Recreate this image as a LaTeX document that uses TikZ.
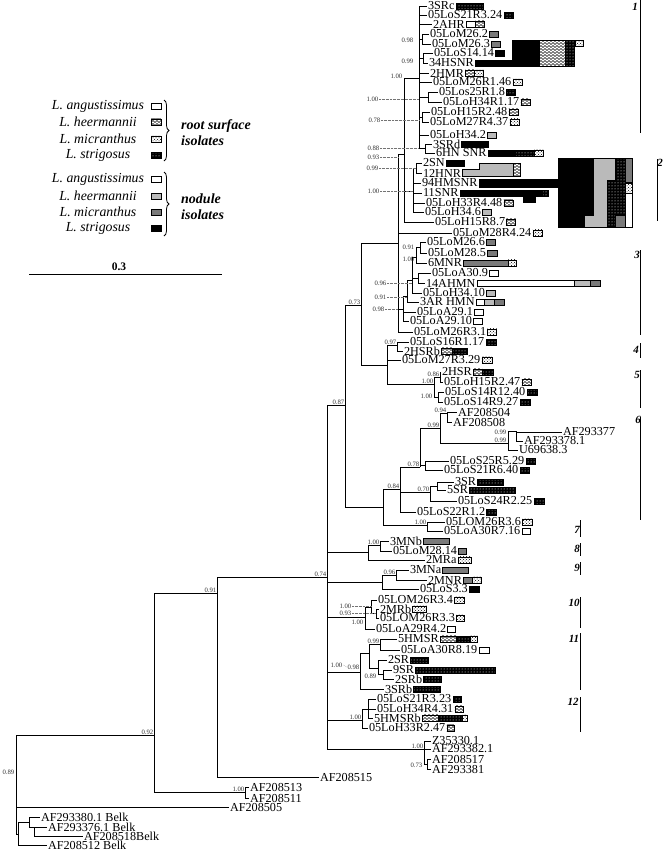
\documentclass[tikz,border=0pt]{standalone}
\usepackage{fontspec}
\setmainfont{Liberation Serif}
\usetikzlibrary{patterns,decorations.pathreplacing}

% wavy fill for L. heermannii root isolates
\pgfdeclarepatternformonly{hwave}{\pgfqpoint{-0.5pt}{-0.5pt}}{\pgfqpoint{4.5pt}{3.5pt}}{\pgfqpoint{4pt}{3pt}}{%
  \pgfsetlinewidth{0.45pt}%
  \pgfpathmoveto{\pgfqpoint{0pt}{1.5pt}}%
  \pgfpathcurveto{\pgfqpoint{1pt}{2.9pt}}{\pgfqpoint{1pt}{2.9pt}}{\pgfqpoint{2pt}{1.5pt}}%
  \pgfpathcurveto{\pgfqpoint{3pt}{0.1pt}}{\pgfqpoint{3pt}{0.1pt}}{\pgfqpoint{4pt}{1.5pt}}%
  \pgfusepath{stroke}%
}

\newcommand{\leaffont}{\fontsize{12.2}{12}\selectfont}
\newcommand{\bsfont}{\fontsize{6.7}{7}\selectfont}
\newcommand{\cladefont}{\fontsize{11}{11}\selectfont\bfseries\itshape}
\newcommand{\legfont}{\fontsize{13.8}{14}\selectfont\itshape}
% isolate boxes behind a leaf label: #1 leaf, #2 list style/width
\newcommand{\isobars}[2]{%
  \coordinate (bx) at ([xshift=0.5pt]#1.east);
  \foreach \bsty/\bwid in {#2}{%
    \draw[\bsty] ([yshift=3.25pt]bx) rectangle ++(\bwid,6.5);
    \coordinate (bx) at ([xshift=\bwid pt]bx);
  }%
}

\begin{document}
\begin{tikzpicture}[x=1pt, y=-1pt,
    leaf/.style={anchor=west, inner sep=0.8pt, font=\leaffont},
    bs/.style={inner sep=0.5pt, font=\bsfont, text=black!80},
    br/.style={line width=0.9pt},
    lead/.style={densely dotted, line width=0.35pt, black!55},
    clab/.style={inner sep=0pt, font=\cladefont},
    cbar/.style={line width=0.9pt},
    brc/.style={line width=0.8pt, decorate, decoration={brace, amplitude=5pt}},
    nodA/.style={draw, line width=0.4pt, fill=white},
    nodH/.style={draw, line width=0.4pt, fill=black!27},
    nodM/.style={draw, line width=0.4pt, fill=black!52},
    nodS/.style={draw, line width=0.4pt, fill=black},
    rootA/.style={draw, line width=0.4pt, fill=white, path picture={\fill (path picture bounding box.center) circle (0.9pt);}},
    rootH/.style={draw, line width=0.4pt, preaction={fill=white}, pattern=hwave},
    rootM/.style={draw, line width=0.4pt, preaction={fill=white}, pattern=crosshatch dots},
    rootS/.style={draw, line width=0.4pt, preaction={fill=black}, pattern=dots, pattern color=white},
    legtxt/.style={inner sep=0pt, font=\legfont},
    grptxt/.style={anchor=west, align=left, inner sep=0pt, font=\fontsize{14}{16}\selectfont\bfseries\itshape}
  ]
  \fill[white] (0,0) rectangle (664,852);
  \useasboundingbox (0,0) rectangle (664,852);

  % legend
  \node[legtxt] (legRA) at (98,106) {L. angustissimus};
  \node[legtxt] (legRH) at (98,122) {L. heermannii};
  \node[legtxt] (legRM) at (98,139) {L. micranthus};
  \node[legtxt] (legRS) at (98,155) {L. strigosus};
  \node[legtxt] (legNA) at (98,179) {L. angustissimus};
  \node[legtxt] (legNH) at (98,196) {L. heermannii};
  \node[legtxt] (legNM) at (98,212) {L. micranthus};
  \node[legtxt] (legNS) at (98,228) {L. strigosus};
  \foreach \s/\yy in {rootA/106, rootH/122, rootM/139, rootS/155, nodA/179, nodH/196, nodM/212, nodS/228}
    \draw[\s] (151,\yy-3.25) rectangle (161,\yy+3.25);
  \draw[brc] (164,100) -- (164,161);
  \draw[brc] (164,172) -- (164,236);
  \node[grptxt] (grpR) at (181,133) {root surface\\isolates};
  \node[grptxt] (grpN) at (181,207) {nodule\\isolates};
  \node[inner sep=0pt, font=\fontsize{11.5}{12}\selectfont\bfseries] (scl) at (119,267) {0.3};
  \coordinate (sb1) at (29,274);
  \coordinate (sb2) at (222,274);
  \draw[line width=0.9pt] (sb1) -- (sb2);

  % internal nodes
  \coordinate (root) at (16,784);
  \coordinate (belk) at (18,834);
  \coordinate (belk2) at (29,822);
  \coordinate (belk3) at (34,827);
  \coordinate (n092) at (154,735);
  \coordinate (pairAF) at (245,792);
  \coordinate (n091) at (217,593);
  \coordinate (n074) at (327,577);
  \coordinate (n087) at (345,405);
  \coordinate (n084p) at (383,507);
  \coordinate (n084) at (400,489);
  \coordinate (n078) at (420,467);
  \coordinate (pS25) at (425,465);
  \coordinate (n099a) at (440,428);
  \coordinate (n094) at (447,413);
  \coordinate (n099b) at (508,443);
  \coordinate (n099c) at (516,431);
  \coordinate (n070) at (430,492);
  \coordinate (p3SR) at (437,486);
  \coordinate (c7) at (427,525);
  \coordinate (n073) at (361,305);
  \coordinate (n097p) at (387,365);
  \coordinate (n097) at (397,345);
  \coordinate (c5) at (434,384);
  \coordinate (p2HSR) at (440,377);
  \coordinate (p05LoS14) at (438,397);
  \coordinate (n093) at (398,243);
  \coordinate (nX) at (403,309);
  \coordinate (nY) at (407,296);
  \coordinate (nZ) at (412,280);
  \coordinate (nAA) at (416,257);
  \coordinate (nAB) at (420,247);
  \coordinate (nAC) at (418,278);
  \coordinate (nV) at (404,154);
  \coordinate (nVA) at (419,78);
  \coordinate (nVD) at (422,39);
  \coordinate (nVE) at (423,58);
  \coordinate (nVF) at (428,97);
  \coordinate (nVH) at (422,117);
  \coordinate (nVI) at (425,148);
  \coordinate (nVB) at (413,191);
  \coordinate (nVC) at (416,168);
  \coordinate (c8p) at (368,552);
  \coordinate (c8) at (380,545);
  \coordinate (c9) at (382,582);
  \coordinate (c9a) at (396,575);
  \coordinate (c10) at (365,617);
  \coordinate (c10a) at (371,607);
  \coordinate (c10b) at (376,613);
  \coordinate (c11) at (360,672);
  \coordinate (c11a) at (369,653);
  \coordinate (c11b) at (380,644);
  \coordinate (c11c) at (378,668);
  \coordinate (c11d) at (383,674);
  \coordinate (c12) at (362,720);
  \coordinate (c12a) at (368,709);
  \coordinate (cAF) at (424,749);
  \coordinate (cAF2) at (427,764);

  % leaves
  \node[leaf] (l3SRc)          at (427,6)   {3SRc};
  \node[leaf] (l05LoS21R3p24)  at (427,15)  {05LoS21R3.24};
  \node[leaf] (l2AHR)          at (432,24)  {2AHR};
  \node[leaf] (l05LoM26p2)     at (429,34)  {05LoM26.2};
  \node[leaf] (l05LoM26p3)     at (431,44)  {05LoM26.3};
  \node[leaf] (l05LoS14p14)    at (433,53)  {05LoS14.14};
  \node[leaf] (l34HSNR)        at (428,63)  {34HSNR};
  \node[leaf] (l2HMR)          at (429,73)  {2HMR};
  \node[leaf] (l05LoM26R1p46)  at (432,82)  {05LoM26R1.46};
  \node[leaf] (l05Los25R1p8)   at (438,92)  {05Los25R1.8};
  \node[leaf] (l05LoH34R1p17)  at (442,102) {05LoH34R1.17};
  \node[leaf] (l05LoH15R2p48)  at (430,112) {05LoH15R2.48};
  \node[leaf] (l05LoM27R4p37)  at (429,122) {05LoM27R4.37};
  \node[leaf] (l05LoH34p2)     at (429,135) {05LoH34.2};
  \node[leaf] (l3SRd)          at (432,144) {3SRd};
  \node[leaf] (l6HNSNR)        at (435,153) {6HN SNR};
  \node[leaf] (l2SN)           at (422,163) {2SN};
  \node[leaf] (l12HNR)         at (422,173) {12HNR};
  \node[leaf] (l94HMSNR)       at (421,183) {94HMSNR};
  \node[leaf] (l11SNR)         at (422,193) {11SNR};
  \node[leaf] (l05LoH33R4p48)  at (425,203) {05LoH33R4.48};
  \node[leaf] (l05LoH34p6)     at (424,212) {05LoH34.6};
  \node[leaf] (l05LoH15R8p7)   at (434,222) {05LoH15R8.7};
  \node[leaf] (l05LoM28R4p24)  at (452,233) {05LoM28R4.24};
  \node[leaf] (l05LoM26p6)     at (426,242) {05LoM26.6};
  \node[leaf] (l05LoM28p5)     at (427,253) {05LoM28.5};
  \node[leaf] (l6MNR)          at (427,263) {6MNR};
  \node[leaf] (l05LoA30p9)     at (431,273) {05LoA30.9};
  \node[leaf] (l14AHMN)        at (425,283) {14AHMN};
  \node[leaf] (l05LoH34p10)    at (422,293) {05LoH34.10};
  \node[leaf] (l3ARHMN)        at (419,302) {3AR HMN};
  \node[leaf] (l05LoA29p1)     at (416,312) {05LoA29.1};
  \node[leaf] (l05LoA29p10)    at (409,321) {05LoA29.10};
  \node[leaf] (l05LoM26R3p1)   at (413,332) {05LoM26R3.1};
  \node[leaf] (l05LoS16R1p17)  at (409,342) {05LoS16R1.17};
  \node[leaf] (l2HSRb)         at (403,351) {2HSRb};
  \node[leaf] (l05LoM27R3p29)  at (401,360) {05LoM27R3.29};
  \node[leaf] (l2HSR)          at (441,372) {2HSR};
  \node[leaf] (l05LoH15R2p47)  at (443,382) {05LoH15R2.47};
  \node[leaf] (l05LoS14R12p40) at (444,392) {05LoS14R12.40};
  \node[leaf] (l05LoS14R9p27)  at (443,402) {05LoS14R9.27};
  \node[leaf] (lAF208504)      at (457,412) {AF208504};
  \node[leaf] (lAF208508)      at (452,422) {AF208508};
  \node[leaf] (lAF293377)      at (562,432) {AF293377};
  \node[leaf] (lAF293378p1)    at (523,441) {AF293378.1};
  \node[leaf] (lU69638p3)      at (518,450) {U69638.3};
  \node[leaf] (l05LoS25R5p29)  at (449,461) {05LoS25R5.29};
  \node[leaf] (l05LoS21R6p40)  at (443,470) {05LoS21R6.40};
  \node[leaf] (l3SR)           at (454,482) {3SR};
  \node[leaf] (l5SR)           at (446,490) {5SR};
  \node[leaf] (l05LoS24R2p25)  at (457,501) {05LoS24R2.25};
  \node[leaf] (l05LoS22R1p2)   at (416,512) {05LoS22R1.2};
  \node[leaf] (l05LOM26R3p6)   at (445,522) {05LOM26R3.6};
  \node[leaf] (l05LoA30R7p16)  at (443,531) {05LoA30R7.16};
  \node[leaf] (l3MNb)          at (389,541) {3MNb};
  \node[leaf] (l05LoM28p14)    at (392,551) {05LoM28.14};
  \node[leaf] (l2MRa)          at (425,560) {2MRa};
  \node[leaf] (l3MNa)          at (409,570) {3MNa};
  \node[leaf] (l2MNR)          at (427,580) {2MNR};
  \node[leaf] (l05LoS3p3)      at (419,589) {05LoS3.3};
  \node[leaf] (l05LOM26R3p4)   at (377,600) {05LOM26R3.4};
  \node[leaf] (l2MRb)          at (379,609) {2MRb};
  \node[leaf] (l05LOM26R3p3)   at (379,618) {05LOM26R3.3};
  \node[leaf] (l05LoA29R4p2)   at (375,629) {05LoA29R4.2};
  \node[leaf] (l5HMSR)         at (397,639) {5HMSR};
  \node[leaf] (l05LoA30R8p19)  at (400,650) {05LoA30R8.19};
  \node[leaf] (l2SR)           at (387,660) {2SR};
  \node[leaf] (l9SR)           at (392,670) {9SR};
  \node[leaf] (l2SRb)          at (394,679) {2SRb};
  \node[leaf] (l3SRb)          at (384,689) {3SRb};
  \node[leaf] (l05LoS21R3p23)  at (376,699) {05LoS21R3.23};
  \node[leaf] (l05LoH34R4p31)  at (376,709) {05LoH34R4.31};
  \node[leaf] (l5HMSRb)        at (373,718) {5HMSRb};
  \node[leaf] (l05LoH33R2p47)  at (368,728) {05LoH33R2.47};
  \node[leaf] (lZ35330p1)      at (431,741) {Z35330.1};
  \node[leaf] (lAF293382p1)    at (431,749) {AF293382.1};
  \node[leaf] (lAF208517)      at (431,759) {AF208517};
  \node[leaf] (lAF293381)      at (431,769) {AF293381};
  \node[leaf] (lAF208515)      at (319,777) {AF208515};
  \node[leaf] (lAF208513)      at (249,787) {AF208513};
  \node[leaf] (lAF208511)      at (249,798) {AF208511};
  \node[leaf] (lAF208505)      at (229,807) {AF208505};
  \node[leaf] (lAF293380p1)    at (40,817)  {AF293380.1 Belk};
  \node[leaf] (lAF293376p1)    at (47,827)  {AF293376.1 Belk};
  \node[leaf] (lAF208518)      at (83,836)  {AF208518Belk};
  \node[leaf] (lAF208512)      at (47,845)  {AF208512 Belk};

  % branches
  \foreach \c in {n092, lAF208505.west, belk} \draw[br] (root) |- (\c);
  \foreach \c in {belk2, lAF208512.west} \draw[br] (belk) |- (\c);
  \foreach \c in {lAF293380p1.west, belk3} \draw[br] (belk2) |- (\c);
  \foreach \c in {lAF293376p1.west, lAF208518.west} \draw[br] (belk3) |- (\c);
  \foreach \c in {n091, pairAF} \draw[br] (n092) |- (\c);
  \foreach \c in {lAF208513.west, lAF208511.west} \draw[br] (pairAF) |- (\c);
  \foreach \c in {n074, lAF208515.west} \draw[br] (n091) |- (\c);
  \foreach \c in {n087, c8p, c9, c10, c11, c12, cAF} \draw[br] (n074) |- (\c);
  \foreach \c in {n073, n084p} \draw[br] (n087) |- (\c);
  \foreach \c in {n084, c7} \draw[br] (n084p) |- (\c);
  \foreach \c in {n078, n070, l05LoS22R1p2.west} \draw[br] (n084) |- (\c);
  \foreach \c in {n099a, pS25} \draw[br] (n078) |- (\c);
  \foreach \c in {l05LoS25R5p29.west, l05LoS21R6p40.west} \draw[br] (pS25) |- (\c);
  \foreach \c in {n094, n099b} \draw[br] (n099a) |- (\c);
  \foreach \c in {lAF208504.west, lAF208508.west} \draw[br] (n094) |- (\c);
  \foreach \c in {n099c, lU69638p3.west} \draw[br] (n099b) |- (\c);
  \foreach \c in {lAF293377.west, lAF293378p1.west} \draw[br] (n099c) |- (\c);
  \foreach \c in {p3SR, l05LoS24R2p25.west} \draw[br] (n070) |- (\c);
  \foreach \c in {l3SR.west, l5SR.west} \draw[br] (p3SR) |- (\c);
  \foreach \c in {l05LOM26R3p6.west, l05LoA30R7p16.west} \draw[br] (c7) |- (\c);
  \foreach \c in {n093, n097p} \draw[br] (n073) |- (\c);
  \foreach \c in {n097, l05LoM27R3p29.west, c5} \draw[br] (n097p) |- (\c);
  \foreach \c in {l05LoS16R1p17.west, l2HSRb.west} \draw[br] (n097) |- (\c);
  \foreach \c in {p2HSR, p05LoS14} \draw[br] (c5) |- (\c);
  \foreach \c in {l2HSR.west, l05LoH15R2p47.west} \draw[br] (p2HSR) |- (\c);
  \foreach \c in {l05LoS14R12p40.west, l05LoS14R9p27.west} \draw[br] (p05LoS14) |- (\c);
  \foreach \c in {nV, l05LoM28R4p24.west, nX, l05LoM26R3p1.west} \draw[br] (n093) |- (\c);
  \foreach \c in {nY, l05LoA29p1.west, l05LoA29p10.west} \draw[br] (nX) |- (\c);
  \foreach \c in {nZ, l3ARHMN.west} \draw[br] (nY) |- (\c);
  \foreach \c in {nAA, nAC, l05LoH34p10.west} \draw[br] (nZ) |- (\c);
  \foreach \c in {nAB, l6MNR.west} \draw[br] (nAA) |- (\c);
  \foreach \c in {l05LoM26p6.west, l05LoM28p5.west} \draw[br] (nAB) |- (\c);
  \foreach \c in {l05LoA30p9.west, l14AHMN.west} \draw[br] (nAC) |- (\c);
  \foreach \c in {nVA, nVB, l05LoH15R8p7.west} \draw[br] (nV) |- (\c);
  \foreach \c in {l3SRc.west, l05LoS21R3p24.west, l2AHR.west, nVD, nVE, l2HMR.west, l05LoM26R1p46.west, nVF, nVH, l05LoH34p2.west, nVI} \draw[br] (nVA) |- (\c);
  \foreach \c in {l05LoM26p2.west, l05LoM26p3.west} \draw[br] (nVD) |- (\c);
  \foreach \c in {l05LoS14p14.west, l34HSNR.west} \draw[br] (nVE) |- (\c);
  \foreach \c in {l05Los25R1p8.west, l05LoH34R1p17.west} \draw[br] (nVF) |- (\c);
  \foreach \c in {l05LoH15R2p48.west, l05LoM27R4p37.west} \draw[br] (nVH) |- (\c);
  \foreach \c in {l3SRd.west, l6HNSNR.west} \draw[br] (nVI) |- (\c);
  \foreach \c in {nVC, l94HMSNR.west, l11SNR.west, l05LoH33R4p48.west, l05LoH34p6.west} \draw[br] (nVB) |- (\c);
  \foreach \c in {l2SN.west, l12HNR.west} \draw[br] (nVC) |- (\c);
  \foreach \c in {c8, l2MRa.west} \draw[br] (c8p) |- (\c);
  \foreach \c in {l3MNb.west, l05LoM28p14.west} \draw[br] (c8) |- (\c);
  \foreach \c in {c9a, l05LoS3p3.west} \draw[br] (c9) |- (\c);
  \foreach \c in {l3MNa.west, l2MNR.west} \draw[br] (c9a) |- (\c);
  \foreach \c in {c10a, l05LoA29R4p2.west} \draw[br] (c10) |- (\c);
  \foreach \c in {l05LOM26R3p4.west, c10b} \draw[br] (c10a) |- (\c);
  \foreach \c in {l2MRb.west, l05LOM26R3p3.west} \draw[br] (c10b) |- (\c);
  \foreach \c in {c11a, l3SRb.west} \draw[br] (c11) |- (\c);
  \foreach \c in {c11b, c11c} \draw[br] (c11a) |- (\c);
  \foreach \c in {l5HMSR.west, l05LoA30R8p19.west} \draw[br] (c11b) |- (\c);
  \foreach \c in {l2SR.west, c11d} \draw[br] (c11c) |- (\c);
  \foreach \c in {l9SR.west, l2SRb.west} \draw[br] (c11d) |- (\c);
  \foreach \c in {c12a, l05LoH33R2p47.west} \draw[br] (c12) |- (\c);
  \foreach \c in {l05LoS21R3p23.west, l05LoH34R4p31.west, l5HMSRb.west} \draw[br] (c12a) |- (\c);
  \foreach \c in {lZ35330p1.west, lAF293382p1.west, cAF2} \draw[br] (cAF) |- (\c);
  \foreach \c in {lAF208517.west, lAF293381.west} \draw[br] (cAF2) |- (\c);

  % support values
  \node[bs, anchor=east] (b089) at (15,772) {0.89};
  \node[bs, anchor=south east] (b092) at (n092) {0.92};
  \node[bs, anchor=south east] (b100p) at (pairAF) {1.00};
  \node[bs, anchor=south east] (b091) at (n091) {0.91};
  \node[bs, anchor=south east] (b074) at (n074) {0.74};
  \node[bs, anchor=south east] (b087) at (n087) {0.87};
  \node[bs, anchor=south east] (b073) at (n073) {0.73};
  \node[bs, anchor=south east] (b084) at (n084) {0.84};
  \node[bs, anchor=south east] (b078) at (n078) {0.78};
  \node[bs, anchor=south east] (b099a) at (n099a) {0.99};
  \node[bs, anchor=south east] (b094) at (n094) {0.94};
  \node[bs, anchor=east] (b099c) at (507,432) {0.99};
  \node[bs, anchor=east] (b099b) at (507,440) {0.99};
  \node[bs, anchor=south east] (b070) at (n070) {0.70};
  \node[bs, anchor=south east] (b100c7) at (c7) {1.00};
  \node[bs, anchor=south east] (b097) at (n097) {0.97};
  \node[bs, anchor=south east] (b086) at (p2HSR) {0.86};
  \node[bs, anchor=south east] (b100c5) at (c5) {1.00};
  \node[bs, anchor=east] (b100s14) at (433,396) {1.00};
  \node[bs, anchor=east] (b091AB) at (415,247) {0.91};
  \node[bs, anchor=east] (b100AA) at (415,259) {1.00};
  \node[bs, anchor=east] (b096) at (387,283) {0.96};
  \node[bs, anchor=east] (b091Y) at (387,297) {0.91};
  \node[bs, anchor=east] (b098X) at (385,309) {0.98};
  \node[bs, anchor=east] (b093) at (380,157) {0.93};
  \node[bs, anchor=east] (b100VA) at (403,76) {1.00};
  \node[bs, anchor=east] (b098D) at (414,40) {0.98};
  \node[bs, anchor=east] (b099E) at (414,61) {0.99};
  \node[bs, anchor=east] (b100F) at (379,99) {1.00};
  \node[bs, anchor=east] (b078H) at (381,120) {0.78};
  \node[bs, anchor=east] (b088) at (380,148) {0.88};
  \node[bs, anchor=east] (b099C) at (379,168) {0.99};
  \node[bs, anchor=east] (b100B) at (380,191) {1.00};
  \node[bs, anchor=south east] (b100c8) at (c8) {1.00};
  \node[bs, anchor=south east] (b096c9) at (c9a) {0.96};
  \node[bs, anchor=east] (b100c10a) at (352,606) {1.00};
  \node[bs, anchor=east] (b093c10b) at (352,613) {0.93};
  \node[bs, anchor=north east] (b100c10) at (364,619) {1.00};
  \node[bs, anchor=south east] (b099c11) at (c11b) {0.99};
  \node[bs, anchor=east] (b100c11) at (343,665) {1.00};
  \node[bs, anchor=east] (b098c11) at (360,667) {0.98};
  \node[bs, anchor=east] (b089c11) at (377,676) {0.89};
  \node[bs, anchor=south east] (b100c12) at (c12) {1.00};
  \node[bs, anchor=south east] (b100AF) at (cAF) {1.00};
  \node[bs, anchor=east] (b073AF) at (423,765) {0.73};
  \draw[lead] (b096.east) -- (b096.east -| nZ);
  \draw[lead] (b091Y.east) -- (b091Y.east -| nY);
  \draw[lead] (b098X.east) -- (b098X.east -| n093);
  \draw[lead] (b093.east) -- (b093.east -| n093);
  \draw[lead] (b100F.east) -- (b100F.east -| nVA);
  \draw[lead] (b078H.east) -- (b078H.east -| nVA);
  \draw[lead] (b088.east) -- (b088.east -| nVA);
  \draw[lead] (b099C.east) -- (b099C.east -| nVC);
  \draw[lead] (b100B.east) -- (b100B.east -| nVB);
  \draw[lead] (b100c10a.east) -- (b100c10a.east -| c10a);
  \draw[lead] (b093c10b.east) -- (b093c10b.east -| c10b);
  \draw[lead] (b100c11.east) -- (b098c11.west);

  % isolate counts
  \isobars{l3SRc}{rootS/27}
  \isobars{l05LoS21R3p24}{rootS/9}
  \isobars{l2AHR}{rootA/9, rootH/9}
  \isobars{l05LoM26p2}{nodM/9}
  \isobars{l05LoM26p3}{nodM/9}
  \isobars{l05LoS14p14}{nodS/9}
  \isobars{l34HSNR}{nodS/37}
  \isobars{l2HMR}{rootH/9, rootM/9}
  \isobars{l05LoM26R1p46}{rootM/9}
  \isobars{l05Los25R1p8}{rootS/9}
  \isobars{l05LoH34R1p17}{rootH/9}
  \isobars{l05LoH15R2p48}{rootH/9}
  \isobars{l05LoM27R4p37}{rootM/9}
  \isobars{l05LoH34p2}{nodH/9}
  \isobars{l3SRd}{nodS/27}
  \isobars{l6HNSNR}{nodS/27, rootS/19, rootM/9}
  \isobars{l2SN}{nodS/18}
  \isobars{l11SNR}{nodS/82, rootS/6}
  \isobars{l05LoH33R4p48}{rootH/9}
  \isobars{l05LoH34p6}{nodH/9}
  \isobars{l05LoH15R8p7}{rootH/9}
  \isobars{l05LoM28R4p24}{rootM/9}
  \isobars{l05LoM26p6}{nodM/9}
  \isobars{l05LoM28p5}{nodM/10}
  \isobars{l6MNR}{nodM/45, rootM/8}
  \isobars{l05LoA30p9}{nodA/9}
  \isobars{l14AHMN}{nodA/97, nodH/16, nodM/10}
  \isobars{l05LoH34p10}{nodH/9}
  \isobars{l3ARHMN}{rootA/8, nodH/10, nodM/10}
  \isobars{l05LoA29p1}{nodA/9}
  \isobars{l05LoA29p10}{nodA/9}
  \isobars{l05LoM26R3p1}{rootM/9}
  \isobars{l05LoS16R1p17}{rootS/10}
  \isobars{l2HSRb}{rootH/11, rootS/15}
  \isobars{l05LoM27R3p29}{rootM/10}
  \isobars{l2HSR}{rootH/9, rootS/11}
  \isobars{l05LoH15R2p47}{rootH/9}
  \isobars{l05LoS14R12p40}{rootS/10}
  \isobars{l05LoS14R9p27}{rootS/10}
  \isobars{l05LoS25R5p29}{rootS/9}
  \isobars{l05LoS21R6p40}{rootS/9}
  \isobars{l3SR}{rootS/26}
  \isobars{l5SR}{rootS/46}
  \isobars{l05LoS24R2p25}{rootS/10}
  \isobars{l05LoS22R1p2}{rootS/10}
  \isobars{l05LOM26R3p6}{rootM/10}
  \isobars{l05LoA30R7p16}{rootA/8}
  \isobars{l3MNb}{nodM/26}
  \isobars{l05LoM28p14}{nodM/8}
  \isobars{l2MRa}{rootM/13}
  \isobars{l3MNa}{nodM/26}
  \isobars{l2MNR}{nodM/9, rootM/9}
  \isobars{l05LoS3p3}{nodS/10}
  \isobars{l05LOM26R3p4}{rootM/10}
  \isobars{l2MRb}{rootM/14}
  \isobars{l05LOM26R3p3}{rootM/8}
  \isobars{l05LoA29R4p2}{rootA/8}
  \isobars{l5HMSR}{rootH/16, rootS/14, rootM/7}
  \isobars{l05LoA30R8p19}{rootA/10}
  \isobars{l2SR}{rootS/18}
  \isobars{l9SR}{rootS/80}
  \isobars{l2SRb}{rootS/18}
  \isobars{l3SRb}{rootS/27}
  \isobars{l05LoS21R3p23}{rootS/8}
  \isobars{l05LoH34R4p31}{rootH/8}
  \isobars{l5HMSRb}{rootH/16, rootS/24, rootM/5}
  \isobars{l05LoH33R2p47}{rootH/7}

  % stacked blocks of clade 1 and 2
  \draw[nodS] (512,40) rectangle (539,66.5);
  \draw[rootH] (539,40) rectangle (565,66.5);
  \draw[rootS] (565,40) rectangle (574,66.5);
  \draw[rootM] (575,40) rectangle (583,46.5);
  \draw[nodH] (462,169.5) -- (479,169.5) -- (479,163) -- (513,163) -- (513,176) -- (462,176) -- cycle;
  \draw[rootH] (513,163) rectangle (520,176);
  \draw[nodS] (479,179.5) rectangle (558,187);
  \fill[black] (523,196) rectangle (536,203);
  \draw[nodS] (558,158) -- (593,158) -- (593,215) -- (584,215) -- (584,227) -- (558,227) -- cycle;
  \draw[nodH] (593,158) -- (615,158) -- (615,180) -- (607,180) -- (607,227) -- (584,227) -- (584,215) -- (593,215) -- cycle;
  \draw[rootS] (615,158) -- (625,158) -- (625,215) -- (615,215) -- (615,227) -- (607,227) -- (607,180) -- (615,180) -- cycle;
  \draw[nodM] (625,158) rectangle (632,182);
  \draw[nodM] (615,215) rectangle (625,227);
  \draw[rootM] (625,183) rectangle (632,193);
  \draw[line width=0.4pt] (558,158) rectangle (632,227);

  % clades
  \draw[cbar] (640,0) -- (640,133);
  \draw[cbar] (657,159) -- (657,221);
  \draw[cbar] (640,250) -- (640,335);
  \draw[cbar] (640,343) -- (640,358);
  \draw[cbar] (640,370) -- (640,408);
  \draw[cbar] (640,417) -- (640,520);
  \draw[cbar] (580,520) -- (580,537);
  \draw[cbar] (580,543) -- (580,556);
  \draw[cbar] (580,562) -- (580,575);
  \draw[cbar] (580,597) -- (580,628);
  \draw[cbar] (580,633) -- (580,690);
  \draw[cbar] (580,697) -- (580,732);
  \node[clab] (k1) at (635,7) {1};
  \node[clab] (k2) at (660,163) {2};
  \node[clab] (k3) at (637,255) {3};
  \node[clab] (k4) at (636,350) {4};
  \node[clab] (k5) at (637,375) {5};
  \node[clab] (k6) at (638,420) {6};
  \node[clab] (k7) at (577,530) {7};
  \node[clab] (k8) at (577,549) {8};
  \node[clab] (k9) at (577,568) {9};
  \node[clab] (k10) at (574,603) {10};
  \node[clab] (k11) at (574,639) {11};
  \node[clab] (k12) at (573,702) {12};
\end{tikzpicture}
\end{document}
